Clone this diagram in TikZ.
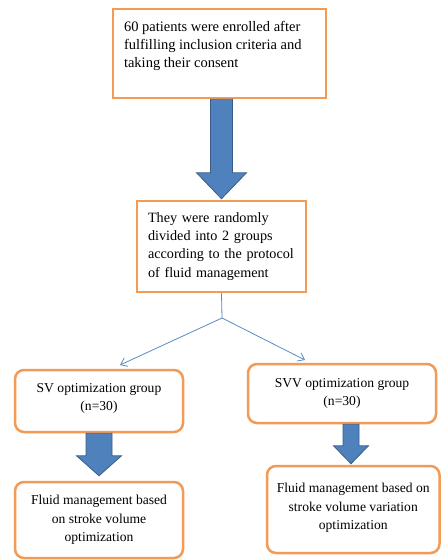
\documentclass[tikz,border=0pt]{standalone}
\usepackage{fontspec}
\setmainfont{Liberation Serif}
\usetikzlibrary{calc,arrows.meta}
\definecolor{boxorange}{HTML}{F39A55}
\definecolor{arrowblue}{HTML}{4F81BD}
\definecolor{arrowedge}{HTML}{385D8A}
\definecolor{linkblue}{HTML}{5A8AC6}
\tikzset{
  sqbox/.style={draw=boxorange, line width=2.5pt, fill=white, inner ysep=0pt},
  rbox/.style={draw=boxorange, line width=2.5pt, fill=white, rounded corners=9pt, align=center, inner sep=0pt, font=\fontsize{13.6}{18.3}\selectfont},
  blockarrow/.style={fill=arrowblue, draw=arrowedge, line width=0.8pt, line join=miter},
  link/.style={draw=linkblue, line width=0.8pt},
  linkarrow/.style={link, -{Straight Barb[length=6pt,width=9pt,line width=0.8pt]}}
}
% #1 from node, #2 to node, #3 shaft half width, #4 head half width, #5 head length, #6 gap before target
\newcommand{\blockarrowdraw}[6]{%
  \draw[blockarrow] let \p1=(#1), \p2=(#2) in
    (\x2-#3,\y1) -- (\x2-#3,\y2+#6+#5) -- (\x2-#4,\y2+#6+#5) -- (\x2,\y2+#6)
    -- (\x2+#4,\y2+#6+#5) -- (\x2+#3,\y2+#6+#5) -- (\x2+#3,\y1) -- cycle;}
\newcommand{\lowdepth}[1]{\rule[-#1]{0pt}{0pt}}
\begin{document}
\begin{tikzpicture}[x=1pt,y=-1pt]
\useasboundingbox (0,0) rectangle (441,560);

\node[sqbox, inner xsep=11pt, inner ysep=12pt, font=\fontsize{14.5}{18}\selectfont] (enrol) at (219.5,53.5)
  {\parbox[c][65pt][t]{191pt}{\raggedright 60 patients were enrolled after\\ fulfilling inclusion criteria and\\ taking their consent}};

\node[sqbox, inner xsep=11pt, text width=147pt, align=left, minimum height=91pt, font=\fontsize{14.2}{18.1}\selectfont] (rand) at (221.5,246.5)
  {They were randomly\\ divided into 2 groups\\ according to the protocol\\ of fluid management};

\node[rbox, minimum width=168pt, minimum height=62pt] (sv) at (99,401)
  {SV optimization group\\[-1pt] (n=30)\lowdepth{8pt}};
\node[rbox, minimum width=188pt, minimum height=59pt] (svv) at (342,393.5)
  {SVV optimization group\\[-1pt] (n=30)};
\node[rbox, minimum width=168pt, minimum height=76pt] (svf) at (99,520)
  {Fluid management based\\ on stroke volume\\ optimization};
\node[rbox, minimum width=172.5pt, minimum height=87pt] (svvf) at (353.25,509.5)
  {Fluid management based on\\ stroke volume variation\\ optimization\lowdepth{6pt}};

\blockarrowdraw{enrol.south}{rand.north}{11pt}{25pt}{26pt}{1pt}
\blockarrowdraw{sv.south}{svf.north}{13pt}{22.5pt}{20pt}{5pt}
\coordinate (svvarrow) at ($(svv.south)+(9,0)$);
\blockarrowdraw{svvarrow}{svvarrow |- svvf.north}{8pt}{17.5pt}{18pt}{1pt}

\coordinate (split) at (222,318);
\coordinate (tipsv) at (120,365);
\coordinate (tipsvv) at (305,360);
\draw[link] (rand.south) -- (split);
\draw[linkarrow] (split) -- (tipsv);
\draw[linkarrow] (split) -- (tipsvv);
\end{tikzpicture}
\end{document}
